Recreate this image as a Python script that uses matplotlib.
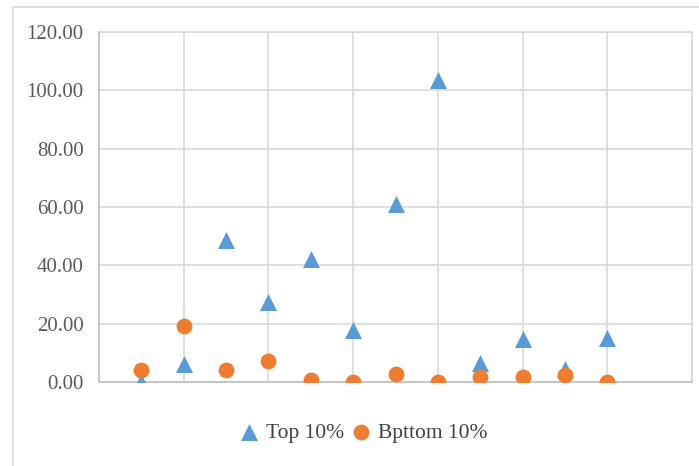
import numpy as np
import matplotlib.pyplot as plt
from matplotlib.patches import Rectangle

# group index and values for each group
x = [1, 2, 3, 4, 5, 6, 7, 8, 9, 10, 11, 12]
top10 = [0.0, 6.3, 48.8, 27.4, 42.3, 17.7, 61.0, 103.6, 6.4, 14.7, 4.3, 15.1]
bottom10 = [4.1, 19.2, 4.0, 7.2, 0.6, 0.0, 2.9, 0.0, 1.8, 1.7, 2.4, 0.0]

plt.rcParams['font.family'] = ['Liberation Serif', 'DejaVu Serif']

fig = plt.figure(figsize=(6.99, 4.66), dpi=100)
ax = fig.add_axes([99/699, 1-382/466, (692-99)/699, (382-32)/466])

# outer chart frame
fig.patches.append(Rectangle((13/699, -0.1), 1.0, 1-7/466+0.1, transform=fig.transFigure,
                             fill=False, edgecolor='#d9d9d9', linewidth=1.2))

ax.scatter(x, top10, marker='^', s=150, color='#5b9bd5', label='Top 10%', zorder=3, linewidths=0)
ax.scatter(x, bottom10, marker='o', s=130, color='#ed7d31', label='Bpttom 10%', zorder=3, linewidths=0)

ax.set_xlim(0, 14)
ax.set_ylim(0, 120)
ax.set_xticks(np.arange(0, 15, 2))
ax.set_yticks(np.arange(0, 121, 20))
ax.set_yticklabels(['%.2f' % v for v in np.arange(0, 121, 20)])
ax.tick_params(axis='x', length=0, labelbottom=False)
ax.tick_params(axis='y', length=0, labelsize=15, labelcolor='#595959', pad=11)
ax.grid(True, color='#d9d9d9', linewidth=1.2)
ax.set_axisbelow(True)
for side in ['top', 'right']:
    ax.spines[side].set_color('#d9d9d9')
    ax.spines[side].set_linewidth(1.2)
for side in ['left', 'bottom']:
    ax.spines[side].set_color('#bfbfbf')
    ax.spines[side].set_linewidth(1.2)

fig.legend(loc='center', bbox_to_anchor=(364/699, 1-433/466), ncol=2, frameon=False,
           fontsize=15.5, handlelength=0.8, handletextpad=0.4, columnspacing=0.4,
           markerscale=1.0, labelcolor='#404040')

fig.savefig('out.png', dpi=100)
